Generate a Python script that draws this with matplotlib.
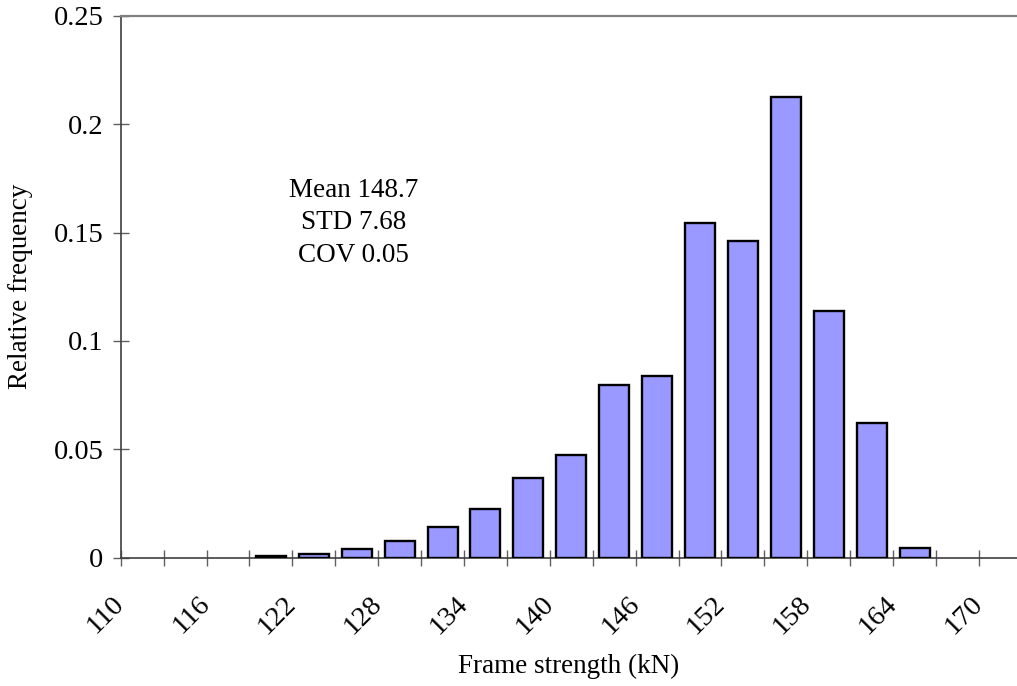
import numpy as np
import matplotlib
matplotlib.use("Agg")
import matplotlib.pyplot as plt

# histogram of frame strength, bins 3 kN wide (lower bin edges)
bin_lo = [119, 122, 125, 128, 131, 134, 137, 140, 143, 146, 149, 152, 155, 158, 161, 164]
rel_freq = [0.0006, 0.0015, 0.0041, 0.0078, 0.0143, 0.0225, 0.0365, 0.0474,
            0.0798, 0.0836, 0.1544, 0.1462, 0.2127, 0.1139, 0.0622, 0.0042]
bin_width = 3.0

tick_vals = list(range(110, 171, 3))
label_vals = list(range(110, 171, 6))
y_ticks = [0, 0.05, 0.1, 0.15, 0.2, 0.25]
y_labels = ["0", "0.05", "0.1", "0.15", "0.2", "0.25"]

stats_text = "Mean 148.7\nSTD 7.68\nCOV 0.05"

plt.rcParams["font.family"] = ["Liberation Serif", "DejaVu Serif"]
FS = 19.5
TICK_FS = 20.5


def main():
    fig = plt.figure(figsize=(10.17, 6.86), dpi=100)
    ax = fig.add_axes([0.1187, 0.1873, 0.8813, 0.7894])

    centers = np.asarray(bin_lo, dtype=float) + bin_width / 2
    ax.bar(centers, rel_freq, width=2.1, color="#9999ff",
           edgecolor="black", linewidth=1.7, zorder=3)

    ax.set_xlim(110, 172.66)
    ax.set_ylim(0, 0.25)

    ax.set_xticks(tick_vals)
    ax.set_xticklabels([str(v) if v in label_vals else "" for v in tick_vals])
    ax.set_yticks(y_ticks)
    ax.set_yticklabels(y_labels)

    ax.tick_params(axis="x", direction="inout", length=11, width=1.0,
                   color="#606060", labelsize=TICK_FS, pad=25)
    ax.tick_params(axis="y", direction="inout", length=11, width=1.0,
                   color="#606060", labelsize=TICK_FS, pad=7)
    for lab in ax.get_xticklabels():
        lab.set_rotation(45)
        lab.set_ha("right")
        lab.set_va("center")
        lab.set_rotation_mode("anchor")

    ax.spines["right"].set_visible(False)
    ax.spines["top"].set_color("#808080")
    ax.spines["top"].set_linewidth(1.6)
    for side in ("left", "bottom"):
        ax.spines[side].set_color("#404040")
        ax.spines[side].set_linewidth(1.2)

    ax.set_ylabel("Relative frequency", fontsize=FS)
    ax.yaxis.set_label_coords(-0.098, 0.5)
    ax.set_xlabel("Frame strength (kN)", fontsize=FS)
    ax.xaxis.set_label_coords(0.5, -0.178)

    ax.text(0.26, 0.618, stats_text, transform=ax.transAxes, fontsize=FS,
            ha="center", va="center", multialignment="center", linespacing=1.38)

    fig.savefig("out.png", dpi=100)
    plt.close(fig)


if __name__ == "__main__":
    main()
